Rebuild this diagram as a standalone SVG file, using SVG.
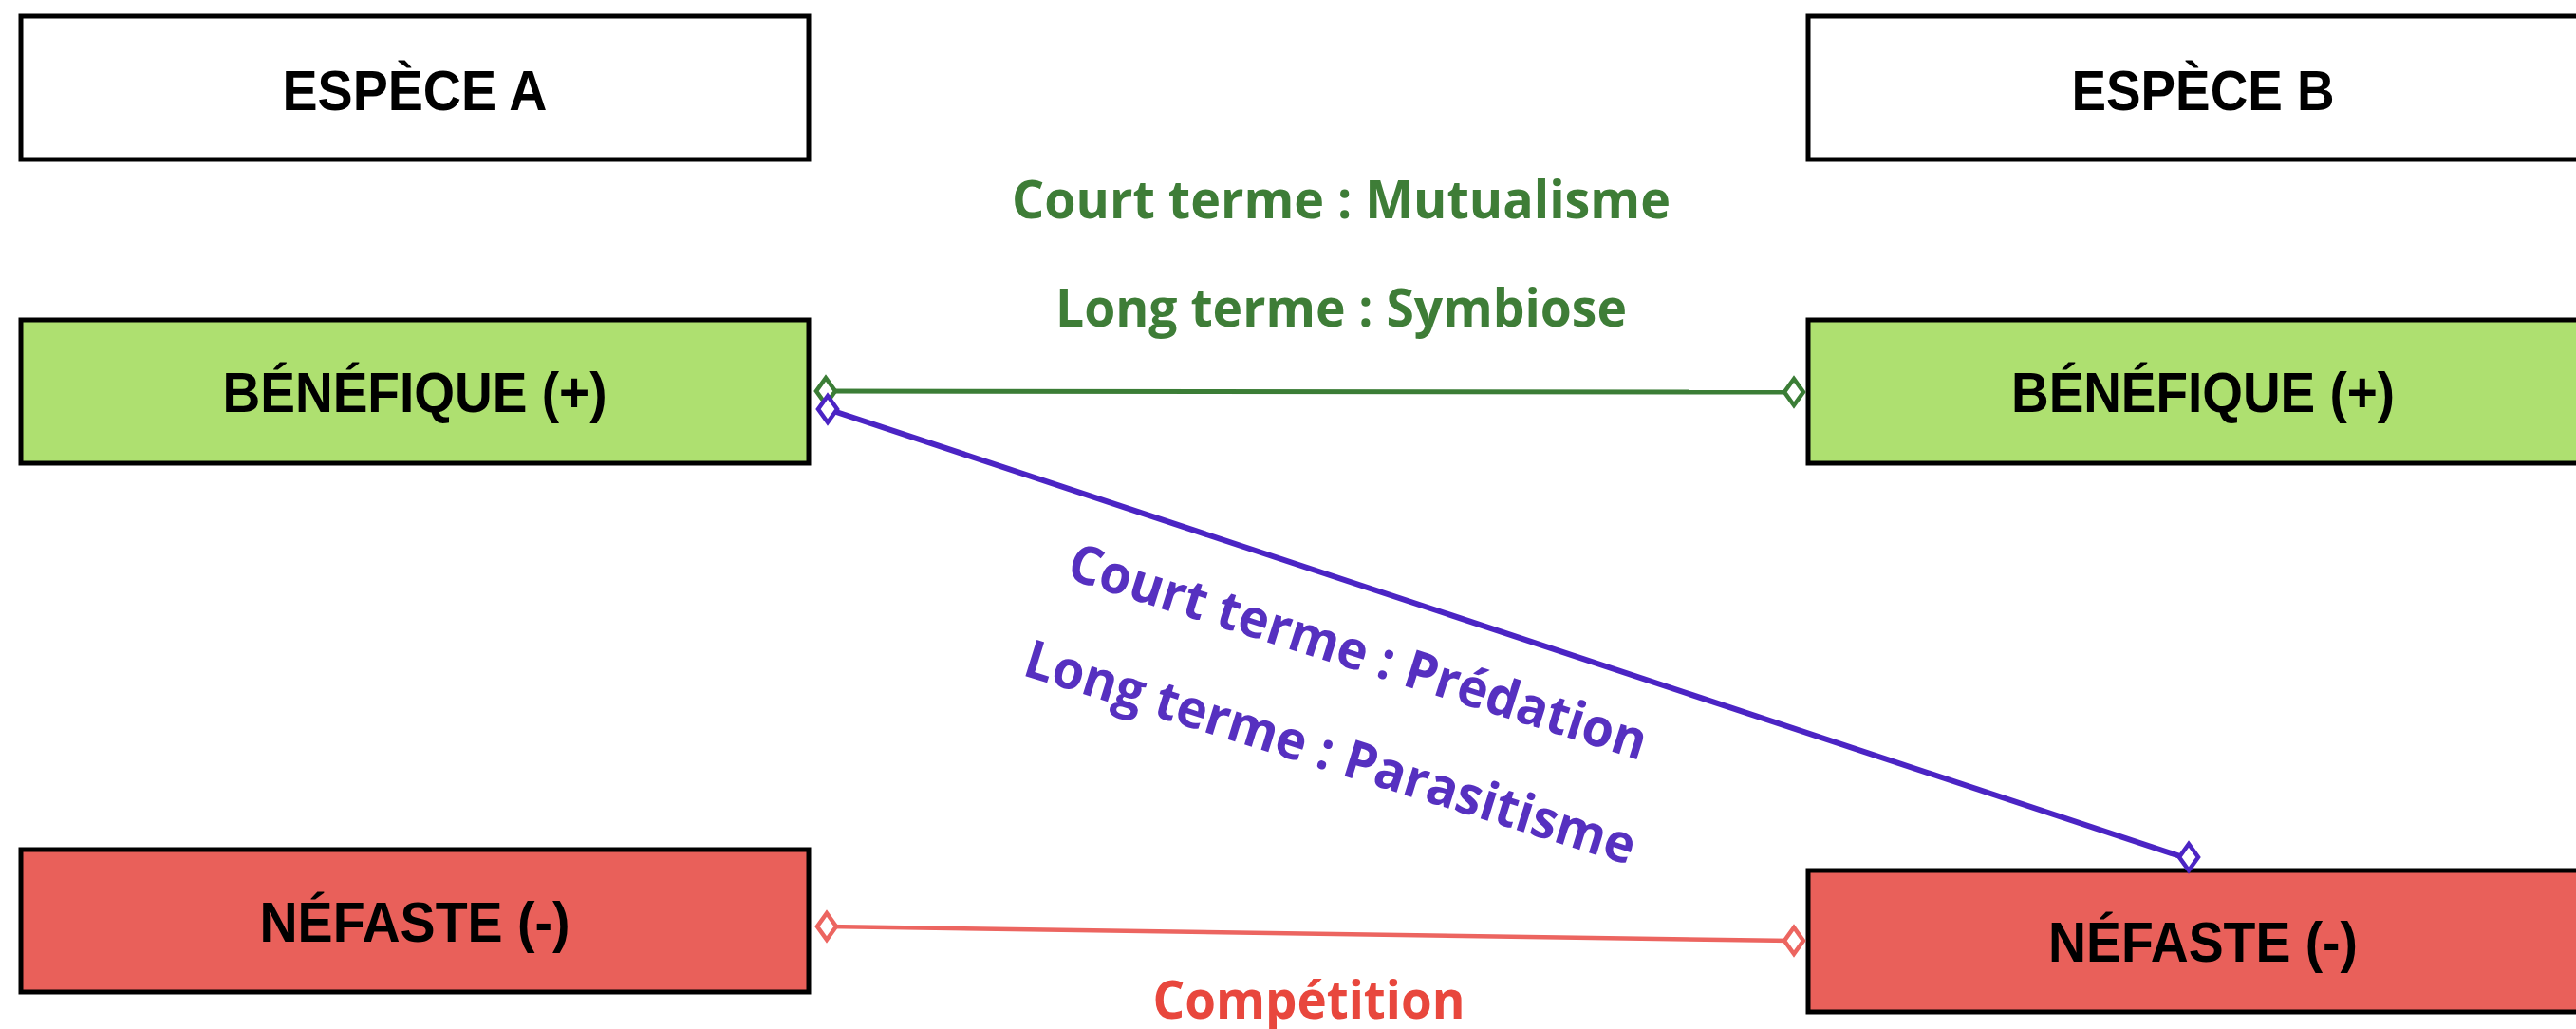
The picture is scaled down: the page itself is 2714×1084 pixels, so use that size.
<svg xmlns="http://www.w3.org/2000/svg" xmlns:xlink="http://www.w3.org/1999/xlink" width="2714" height="1084" viewBox="0 0 2714 1084">
<style>
.box{stroke:#000;stroke-width:5}
.w{fill:#fff}
.g{fill:#aee070}
.r{fill:#e9605a}
.bt{font-family:"Liberation Sans",Arial,sans-serif;font-weight:bold;font-size:60px;fill:#000;text-anchor:middle}
.lbl{font-family:"Open Sans","Liberation Sans",sans-serif;font-weight:bold;font-size:56px;text-anchor:middle}
.dg{fill:#fff;stroke:#3b7d36;stroke-width:4.5}
.dp{fill:#fff;stroke:#4b24c4;stroke-width:4.5}
.dr{fill:#fff;stroke:#ec6560;stroke-width:4.5}
</style>
<defs>
<path id="dia" d="M0,-14 L10,0 L0,14 L-10,0 Z"/>
</defs>
<rect width="2714" height="1084" fill="#fff"/>
<g id="especeA"><rect class="box w" x="22" y="17" width="830" height="151"/><text class="bt" x="437" y="116" textLength="279" lengthAdjust="spacingAndGlyphs">ESPÈCE A</text></g>
<g id="especeB"><rect class="box w" x="1905" y="17" width="840" height="151"/><text class="bt" x="2321" y="116" textLength="277" lengthAdjust="spacingAndGlyphs">ESPÈCE B</text></g>
<g id="beneA"><rect class="box g" x="22" y="337" width="830" height="151"/><text class="bt" x="437" y="434" textLength="405" lengthAdjust="spacingAndGlyphs">BÉNÉFIQUE (+)</text></g>
<g id="beneB"><rect class="box g" x="1905" y="337" width="840" height="151"/><text class="bt" x="2321" y="434" textLength="404" lengthAdjust="spacingAndGlyphs">BÉNÉFIQUE (+)</text></g>
<g id="nefA"><rect class="box r" x="22" y="895" width="830" height="150"/><text class="bt" x="437" y="992" textLength="327" lengthAdjust="spacingAndGlyphs">NÉFASTE (-)</text></g>
<g id="nefB"><rect class="box r" x="1905" y="917" width="840" height="149"/><text class="bt" x="2321" y="1013" textLength="326" lengthAdjust="spacingAndGlyphs">NÉFASTE (-)</text></g>
<g id="connectors">
<line x1="870" y1="412" x2="1888" y2="413" stroke="#3b7d36" stroke-width="5"/>
<line x1="872" y1="431" x2="2306" y2="905" stroke="#4b24c4" stroke-width="6"/>
<line x1="871" y1="976" x2="1888" y2="991" stroke="#ec6560" stroke-width="4.5"/>
<use xlink:href="#dia" class="dg" x="870" y="412"/>
<use xlink:href="#dia" class="dg" x="1890" y="413"/>
<use xlink:href="#dia" class="dp" x="872" y="431"/>
<use xlink:href="#dia" class="dp" x="2306" y="903"/>
<use xlink:href="#dia" class="dr" x="871" y="976"/>
<use xlink:href="#dia" class="dr" x="1890" y="991"/>
<text class="lbl" x="1413" y="230" fill="#3e7d37" textLength="694" lengthAdjust="spacingAndGlyphs">Court terme : Mutualisme</text>
<text class="lbl" x="1413" y="344" fill="#3e7d37" textLength="602" lengthAdjust="spacingAndGlyphs">Long terme : Symbiose</text>
<text class="lbl" x="1425" y="705" fill="#5630c0" textLength="636" lengthAdjust="spacingAndGlyphs" transform="rotate(17.6 1425 705)">Court terme : Prédation</text>
<text class="lbl" x="1396" y="811" fill="#5630c0" textLength="671" lengthAdjust="spacingAndGlyphs" transform="rotate(17.4 1396 811)">Long terme : Parasitisme</text>
<text class="lbl" x="1379" y="1073" fill="#e8473d" textLength="329" lengthAdjust="spacingAndGlyphs">Compétition</text>
</g>
</svg>
